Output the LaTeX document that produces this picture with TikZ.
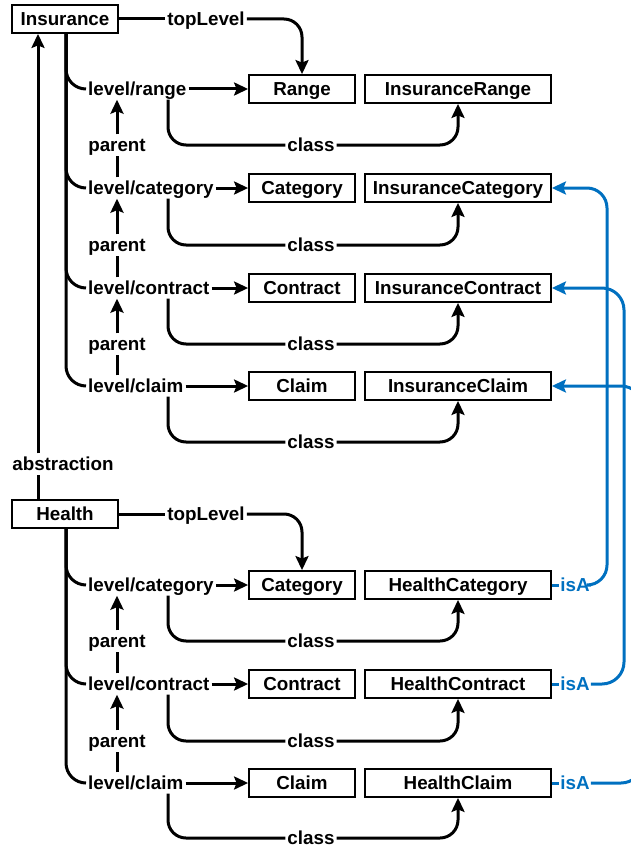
\documentclass[tikz,border=0pt]{standalone}
\usepackage{fontspec}
\setmainfont{Liberation Sans}
\usetikzlibrary{arrows.meta}
\definecolor{isablue}{RGB}{0,112,192}
\begin{document}
\begin{tikzpicture}[x=1pt,y=-1pt,
  every node/.style={font=\fontsize{18.8}{21}\selectfont\bfseries},
  box/.style={draw, line width=1.8pt, minimum width=106pt, minimum height=28pt, inner sep=0pt,
              text height=13.5pt, text depth=0pt, fill=white},
  wbox/.style={box, minimum width=186pt},
  lbl/.style={inner xsep=2pt, inner ysep=0pt, text height=17pt, text depth=4pt},
  flatlbl/.style={lbl, text height=13.5pt, text depth=0pt},
  link/.style={line width=3pt},
  arr/.style={link, -{Stealth[length=14pt,width=13pt,inset=2.5pt]}},
  soft/.style={rounded corners=18pt},
  isa/.style={link, draw=isablue},
  isalbl/.style={lbl, text=isablue, inner xsep=1pt}
]
\useasboundingbox (0,0) rectangle (631,848);
\clip (0,0) rectangle (631,848);

% guide columns
\coordinate (trunk) at (66,0);
\coordinate (clsx) at (168,0);
\coordinate (abx) at (38,0);
\coordinate (parx) at (117,0);
\coordinate (vxa) at (607,0);
\coordinate (vxb) at (624,0);
\coordinate (vxc) at (643,0);

% ---------- Insurance ----------
\node[box] (ins) at (65,19) {Insurance};
\node[lbl] (insTop) at (206,19) {topLevel};

\node[box]  (iRange)  at (302,89) {Range};
\node[wbox] (iRangeC) at (458,89) {InsuranceRange};
\node[lbl, anchor=west] (iLvlR) at (86,89) {level/range};
\node[lbl] (iClsR) at (311,145) {class};
\node[lbl] (iParR) at (117,145) {parent};

\node[box]  (iCat)  at (302,188) {Category};
\node[wbox] (iCatC) at (458,188) {InsuranceCategory};
\node[lbl, anchor=west] (iLvlC) at (86,188) {level/category};
\node[lbl] (iClsC) at (311,245) {class};
\node[lbl] (iParC) at (117,245) {parent};

\node[box]  (iCon)  at (302,288) {Contract};
\node[wbox] (iConC) at (458,288) {InsuranceContract};
\node[lbl, anchor=west] (iLvlK) at (86,288) {level/contract};
\node[lbl] (iClsK) at (311,344) {class};
\node[lbl] (iParK) at (117,344) {parent};

\node[box]  (iClm)  at (302,386) {Claim};
\node[wbox] (iClmC) at (458,386) {InsuranceClaim};
\node[lbl, anchor=west] (iLvlM) at (86,386) {level/claim};
\node[lbl] (iClsM) at (311,442) {class};

\draw[link] (ins) -- (insTop);
\draw[arr, soft] (insTop.east) -| (iRange.north);

\foreach \lv/\bx/\cl/\cb in {iLvlR/iRange/iClsR/iRangeC, iLvlC/iCat/iClsC/iCatC, iLvlK/iCon/iClsK/iConC, iLvlM/iClm/iClsM/iClmC}{
  \draw[link, rounded corners=20pt] (ins.south -| trunk) |- (\lv.west);
  \draw[arr] (\lv) -- (\bx);
  \draw[link, soft] (\lv.south -| clsx) |- (\cl.west);
  \draw[arr, soft] (\cl.east) -| (\cb.south);
}
\foreach \lo/\pa/\up in {iLvlC/iParR/iLvlR, iLvlK/iParC/iLvlC, iLvlM/iParK/iLvlK}{
  \draw[link] (\lo.north -| parx) -- (\pa.south);
  \draw[arr] (\pa.north) -- (\up.south -| parx);
}

% ---------- Health ----------
\node[box] (hea) at (65,514) {Health};
\node[lbl] (heaTop) at (206,514) {topLevel};
\node[lbl] (abs) at (63,464) {abstraction};

\node[box]  (hCat)  at (302,585) {Category};
\node[wbox] (hCatC) at (458,585) {HealthCategory};
\node[lbl, anchor=west] (hLvlC) at (86,585) {level/category};
\node[lbl] (hClsC) at (311,641) {class};
\node[lbl] (hParC) at (117,641) {parent};

\node[box]  (hCon)  at (302,684) {Contract};
\node[wbox] (hConC) at (458,684) {HealthContract};
\node[lbl, anchor=west] (hLvlK) at (86,684) {level/contract};
\node[lbl] (hClsK) at (311,741) {class};
\node[lbl] (hParK) at (117,741) {parent};

\node[box]  (hClm)  at (302,783) {Claim};
\node[wbox] (hClmC) at (458,783) {HealthClaim};
\node[lbl, anchor=west] (hLvlM) at (86,783) {level/claim};
\node[flatlbl] (hClsM) at (311,838) {class};

\draw[link] (hea.north -| abx) -- (abs.south -| abx);
\draw[arr] (abs.north -| abx) -- (ins.south -| abx);

\draw[link] (hea) -- (heaTop);
\draw[arr, soft] (heaTop.east) -| (hCat.north);

\foreach \lv/\bx/\cl/\cb in {hLvlC/hCat/hClsC/hCatC, hLvlK/hCon/hClsK/hConC, hLvlM/hClm/hClsM/hClmC}{
  \draw[link, rounded corners=20pt] (hea.south -| trunk) |- (\lv.west);
  \draw[arr] (\lv) -- (\bx);
  \draw[link, soft] (\lv.south -| clsx) |- (\cl.west);
  \draw[arr, soft] (\cl.east) -| (\cb.south);
}
\foreach \lo/\pa/\up in {hLvlK/hParC/hLvlC, hLvlM/hParK/hLvlK}{
  \draw[link] (\lo.north -| parx) -- (\pa.south);
  \draw[arr] (\pa.north) -- (\up.south -| parx);
}

% ---------- isA links ----------
\node[isalbl] (isaC) at (575,585) {isA};
\node[isalbl] (isaK) at (575,684) {isA};
\node[isalbl] (isaM) at (575,783) {isA};

\draw[isa] (hCatC) -- (isaC);
\draw[isa] (hConC) -- (isaK);
\draw[isa] (hClmC) -- (isaM);
\draw[isa, arr, draw=isablue, rounded corners=20pt] (isaC.east) -| (iCatC.east -| vxa) -- (iCatC.east);
\draw[isa, arr, draw=isablue, rounded corners=22pt] (isaK.east) -| (iConC.east -| vxb) -- (iConC.east);
\draw[isa, arr, draw=isablue, rounded corners=22pt] (isaM.east) -| (iClmC.east -| vxc) -- (iClmC.east);
\end{tikzpicture}
\end{document}
